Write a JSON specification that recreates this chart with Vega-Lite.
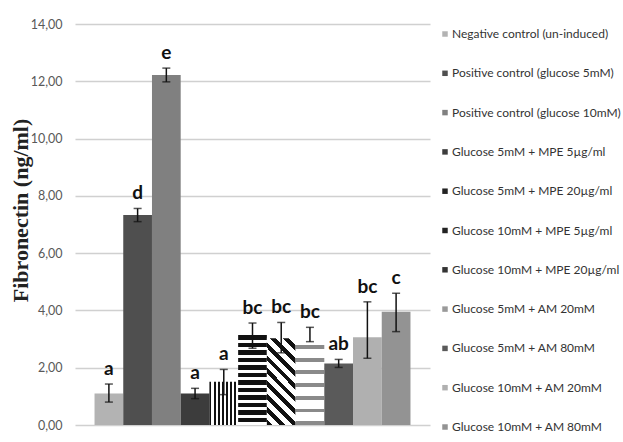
{
  "$schema": "https://vega.github.io/schema/vega-lite/v6.json",
  "width": 355,
  "height": 401,
  "autosize": {"type": "none"},
  "padding": {"left": 75, "top": 24, "right": 193, "bottom": 17},
  "background": "white",
  "config": {"view": {"stroke": null}, "font": "Lato"},
  "data": {
    "values": [
      {"group": "Negative control (un-induced)", "mean": 1.10, "lo": 0.80, "hi": 1.43, "letter": "a"},
      {"group": "Positive control  (glucose 5mM)", "mean": 7.33, "lo": 7.10, "hi": 7.56, "letter": "d"},
      {"group": "Positive control  (glucose 10mM)", "mean": 12.22, "lo": 11.98, "hi": 12.46, "letter": "e"},
      {"group": "Glucose 5mM + MPE 5µg/ml", "mean": 1.10, "lo": 0.92, "hi": 1.28, "letter": "a"},
      {"group": "Glucose 5mM + MPE 20µg/ml", "mean": 1.51, "lo": 1.06, "hi": 1.94, "letter": "a"},
      {"group": "Glucose 10mM + MPE 5µg/ml", "mean": 3.14, "lo": 2.68, "hi": 3.56, "letter": "bc"},
      {"group": "Glucose 10mM + MPE 20µg/ml", "mean": 3.03, "lo": 2.52, "hi": 3.58, "letter": "bc"},
      {"group": "Glucose 5mM + AM 20mM", "mean": 3.10, "lo": 2.91, "hi": 3.41, "letter": "bc"},
      {"group": "Glucose 5mM + AM 80mM", "mean": 2.15, "lo": 2.01, "hi": 2.29, "letter": "ab"},
      {"group": "Glucose 10mM + AM 20mM", "mean": 3.06, "lo": 2.33, "hi": 4.30, "letter": "bc"},
      {"group": "Glucose 10mM + AM 80mM", "mean": 3.95, "lo": 3.26, "hi": 4.60, "letter": "c"}
    ]
  },
  "encoding": {
    "x": {"field": "group", "type": "nominal", "sort": null, "scale": {"paddingInner": 0, "paddingOuter": 0.68}, "axis": null}
  },
  "layer": [
    {
      "mark": {"type": "bar"},
      "encoding": {
        "y": {
          "field": "mean", "type": "quantitative",
          "scale": {"domain": [0, 14], "nice": false},
          "axis": {
            "values": [0, 2, 4, 6, 8, 10, 12, 14],
            "labelExpr": "replace(format(datum.value, '.2f'), '.', ',')",
            "grid": true, "gridColor": "#d0d0d0", "gridWidth": 1.5,
            "domain": false, "ticks": false,
            "labelPadding": 13, "labelFontSize": 12.5, "labelColor": "#595959", "labelFont": "Lato",
            "title": "Fibronectin (ng/ml)",
            "titleFont": "Liberation Serif", "titleFontWeight": "bold", "titleFontSize": 22, "titleColor": "#222222",
            "titleAngle": -90, "titleX": -55, "titleY": 186, "titleAlign": "center", "titleBaseline": "middle"
          }
        },
        "fill": {
          "field": "group", "type": "nominal", "sort": null,
          "condition": [
            {"test": "datum.group === 'Glucose 5mM + MPE 20µg/ml'", "value": {"gradient": "linear", "x1": 0, "y1": 0, "x2": 1, "y2": 0, "stops": [
                {"offset": 0, "color": "#111111"}, {"offset": 0.0714, "color": "#111111"}, {"offset": 0.0714, "color": "#ffffff"}, {"offset": 0.1429, "color": "#ffffff"},
                {"offset": 0.1429, "color": "#111111"}, {"offset": 0.2143, "color": "#111111"}, {"offset": 0.2143, "color": "#ffffff"}, {"offset": 0.2857, "color": "#ffffff"},
                {"offset": 0.2857, "color": "#111111"}, {"offset": 0.3571, "color": "#111111"}, {"offset": 0.3571, "color": "#ffffff"}, {"offset": 0.4286, "color": "#ffffff"},
                {"offset": 0.4286, "color": "#111111"}, {"offset": 0.5, "color": "#111111"}, {"offset": 0.5, "color": "#ffffff"}, {"offset": 0.5714, "color": "#ffffff"},
                {"offset": 0.5714, "color": "#111111"}, {"offset": 0.6429, "color": "#111111"}, {"offset": 0.6429, "color": "#ffffff"}, {"offset": 0.7143, "color": "#ffffff"},
                {"offset": 0.7143, "color": "#111111"}, {"offset": 0.7857, "color": "#111111"}, {"offset": 0.7857, "color": "#ffffff"}, {"offset": 0.8571, "color": "#ffffff"},
                {"offset": 0.8571, "color": "#111111"}, {"offset": 0.9286, "color": "#111111"}, {"offset": 0.9286, "color": "#ffffff"}, {"offset": 1, "color": "#ffffff"}
              ]}},
            {"test": "datum.group === 'Glucose 10mM + MPE 5µg/ml'", "value": {"gradient": "linear", "x1": 0, "y1": 0, "x2": 0, "y2": 1, "stops": [
                {"offset": 0, "color": "#111111"}, {"offset": 0.05, "color": "#111111"}, {"offset": 0.05, "color": "#ffffff"}, {"offset": 0.0833, "color": "#ffffff"},
                {"offset": 0.0833, "color": "#111111"}, {"offset": 0.1333, "color": "#111111"}, {"offset": 0.1333, "color": "#ffffff"}, {"offset": 0.1667, "color": "#ffffff"},
                {"offset": 0.1667, "color": "#111111"}, {"offset": 0.2167, "color": "#111111"}, {"offset": 0.2167, "color": "#ffffff"}, {"offset": 0.25, "color": "#ffffff"},
                {"offset": 0.25, "color": "#111111"}, {"offset": 0.3, "color": "#111111"}, {"offset": 0.3, "color": "#ffffff"}, {"offset": 0.3333, "color": "#ffffff"},
                {"offset": 0.3333, "color": "#111111"}, {"offset": 0.3833, "color": "#111111"}, {"offset": 0.3833, "color": "#ffffff"}, {"offset": 0.4167, "color": "#ffffff"},
                {"offset": 0.4167, "color": "#111111"}, {"offset": 0.4667, "color": "#111111"}, {"offset": 0.4667, "color": "#ffffff"}, {"offset": 0.5, "color": "#ffffff"},
                {"offset": 0.5, "color": "#111111"}, {"offset": 0.55, "color": "#111111"}, {"offset": 0.55, "color": "#ffffff"}, {"offset": 0.5833, "color": "#ffffff"},
                {"offset": 0.5833, "color": "#111111"}, {"offset": 0.6333, "color": "#111111"}, {"offset": 0.6333, "color": "#ffffff"}, {"offset": 0.6667, "color": "#ffffff"},
                {"offset": 0.6667, "color": "#111111"}, {"offset": 0.7167, "color": "#111111"}, {"offset": 0.7167, "color": "#ffffff"}, {"offset": 0.75, "color": "#ffffff"},
                {"offset": 0.75, "color": "#111111"}, {"offset": 0.8, "color": "#111111"}, {"offset": 0.8, "color": "#ffffff"}, {"offset": 0.8333, "color": "#ffffff"},
                {"offset": 0.8333, "color": "#111111"}, {"offset": 0.8833, "color": "#111111"}, {"offset": 0.8833, "color": "#ffffff"}, {"offset": 0.9167, "color": "#ffffff"},
                {"offset": 0.9167, "color": "#111111"}, {"offset": 0.9667, "color": "#111111"}, {"offset": 0.9667, "color": "#ffffff"}, {"offset": 1, "color": "#ffffff"}
              ]}},
            {"test": "datum.group === 'Glucose 10mM + MPE 20µg/ml'", "value": {"gradient": "linear", "x1": 0, "y1": 1, "x2": 0.4, "y2": -0.2, "stops": [
                {"offset": 0, "color": "#111111"}, {"offset": 0.05, "color": "#111111"}, {"offset": 0.05, "color": "#ffffff"}, {"offset": 0.1111, "color": "#ffffff"},
                {"offset": 0.1111, "color": "#111111"}, {"offset": 0.1611, "color": "#111111"}, {"offset": 0.1611, "color": "#ffffff"}, {"offset": 0.2222, "color": "#ffffff"},
                {"offset": 0.2222, "color": "#111111"}, {"offset": 0.2722, "color": "#111111"}, {"offset": 0.2722, "color": "#ffffff"}, {"offset": 0.3333, "color": "#ffffff"},
                {"offset": 0.3333, "color": "#111111"}, {"offset": 0.3833, "color": "#111111"}, {"offset": 0.3833, "color": "#ffffff"}, {"offset": 0.4444, "color": "#ffffff"},
                {"offset": 0.4444, "color": "#111111"}, {"offset": 0.4944, "color": "#111111"}, {"offset": 0.4944, "color": "#ffffff"}, {"offset": 0.5556, "color": "#ffffff"},
                {"offset": 0.5556, "color": "#111111"}, {"offset": 0.6056, "color": "#111111"}, {"offset": 0.6056, "color": "#ffffff"}, {"offset": 0.6667, "color": "#ffffff"},
                {"offset": 0.6667, "color": "#111111"}, {"offset": 0.7167, "color": "#111111"}, {"offset": 0.7167, "color": "#ffffff"}, {"offset": 0.7778, "color": "#ffffff"},
                {"offset": 0.7778, "color": "#111111"}, {"offset": 0.8278, "color": "#111111"}, {"offset": 0.8278, "color": "#ffffff"}, {"offset": 0.8889, "color": "#ffffff"},
                {"offset": 0.8889, "color": "#111111"}, {"offset": 0.9389, "color": "#111111"}, {"offset": 0.9389, "color": "#ffffff"}, {"offset": 1, "color": "#ffffff"}
              ]}},
            {"test": "datum.group === 'Glucose 5mM + AM 20mM'", "value": {"gradient": "linear", "x1": 0, "y1": 0, "x2": 0, "y2": 1, "stops": [
                {"offset": 0, "color": "#ffffff"}, {"offset": 0.1, "color": "#ffffff"}, {"offset": 0.1, "color": "#8a8a8a"}, {"offset": 0.1429, "color": "#8a8a8a"},
                {"offset": 0.1429, "color": "#ffffff"}, {"offset": 0.2429, "color": "#ffffff"}, {"offset": 0.2429, "color": "#8a8a8a"}, {"offset": 0.2857, "color": "#8a8a8a"},
                {"offset": 0.2857, "color": "#ffffff"}, {"offset": 0.3857, "color": "#ffffff"}, {"offset": 0.3857, "color": "#8a8a8a"}, {"offset": 0.4286, "color": "#8a8a8a"},
                {"offset": 0.4286, "color": "#ffffff"}, {"offset": 0.5286, "color": "#ffffff"}, {"offset": 0.5286, "color": "#8a8a8a"}, {"offset": 0.5714, "color": "#8a8a8a"},
                {"offset": 0.5714, "color": "#ffffff"}, {"offset": 0.6714, "color": "#ffffff"}, {"offset": 0.6714, "color": "#8a8a8a"}, {"offset": 0.7143, "color": "#8a8a8a"},
                {"offset": 0.7143, "color": "#ffffff"}, {"offset": 0.8143, "color": "#ffffff"}, {"offset": 0.8143, "color": "#8a8a8a"}, {"offset": 0.8571, "color": "#8a8a8a"},
                {"offset": 0.8571, "color": "#ffffff"}, {"offset": 0.9571, "color": "#ffffff"}, {"offset": 0.9571, "color": "#8a8a8a"}, {"offset": 1, "color": "#8a8a8a"}
              ]}}
          ],
          "scale": {
            "domain": [
              "Negative control (un-induced)",
              "Positive control  (glucose 5mM)",
              "Positive control  (glucose 10mM)",
              "Glucose 5mM + MPE 5µg/ml",
              "Glucose 5mM + MPE 20µg/ml",
              "Glucose 10mM + MPE 5µg/ml",
              "Glucose 10mM + MPE 20µg/ml",
              "Glucose 5mM + AM 20mM",
              "Glucose 5mM + AM 80mM",
              "Glucose 10mM + AM 20mM",
              "Glucose 10mM + AM 80mM"
            ],
            "range": ["#b3b3b3", "#4f4f4f", "#808080", "#3c3c3c", "#222222", "#222222", "#333333", "#9a9a9a", "#5a5a5a", "#b0b0b0", "#939393"]
          },
          "legend": {
            "orient": "none", "legendX": 364, "legendY": 4,
            "title": null, "direction": "vertical",
            "symbolType": "square", "symbolSize": 30, "symbolStrokeWidth": 0,
            "labelFont": "Lato", "labelFontSize": 12, "labelColor": "#333333", "labelLimit": 300,
            "labelOffset": 1, "rowPadding": 27.3
          }
        }
      }
    },
    {
      "mark": {"type": "rule", "color": "#111111", "strokeWidth": 1.5},
      "encoding": {"y": {"field": "lo", "type": "quantitative"}, "y2": {"field": "hi"}}
    },
    {
      "mark": {"type": "tick", "color": "#111111", "thickness": 1.5, "size": 8},
      "encoding": {"y": {"field": "hi", "type": "quantitative"}}
    },
    {
      "mark": {"type": "tick", "color": "#111111", "thickness": 1.5, "size": 8},
      "encoding": {"y": {"field": "lo", "type": "quantitative"}}
    },
    {
      "mark": {"type": "text", "font": "Lato", "fontWeight": "bold", "fontSize": 19, "baseline": "alphabetic", "dy": -9, "color": "#111111"},
      "encoding": {"y": {"field": "hi", "type": "quantitative"}, "text": {"field": "letter"}}
    }
  ]
}
